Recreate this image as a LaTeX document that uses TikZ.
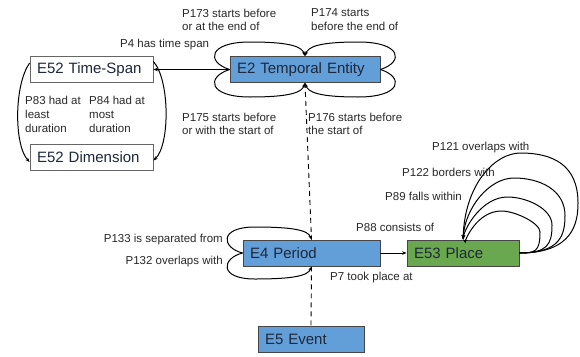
\documentclass[tikz,border=0pt]{standalone}
\usepackage{fontspec}
\setmainfont{Liberation Sans}
\usetikzlibrary{arrows.meta,backgrounds}
\definecolor{eblue}{RGB}{98,158,216}
\definecolor{egreen}{RGB}{106,168,79}
\definecolor{etext}{RGB}{30,40,58}
\definecolor{lbltext}{RGB}{40,40,40}
\definecolor{eborder}{RGB}{70,70,70}
\tikzset{
  ebox/.style={draw=eborder, line width=0.8pt, minimum height=26pt, inner xsep=7pt, inner ysep=0pt, align=left,
    font=\fontsize{15}{17}\selectfont, text=etext},
  bluebox/.style={ebox, fill=eblue},
  greenbox/.style={ebox, fill=egreen},
  whitebox/.style={ebox, fill=white, draw=gray!80!black},
  lbl/.style={inner sep=0pt, align=left, font=\fontsize{11.5}{13.5}\selectfont, text=lbltext},
  lblr/.style={inner sep=0pt, align=right, font=\fontsize{11.5}{13.5}\selectfont, text=lbltext},
  rel/.style={line width=1pt, black},
  tip/.style={-{Stealth[length=4.5pt,width=3.5pt]}},
  sub/.style={line width=0.9pt, dash pattern=on 5pt off 4pt}
}
\begin{document}
\begin{tikzpicture}[x=1pt,y=-1pt]
\useasboundingbox (0,0) rectangle (580,356);
% boxes
\node[whitebox, text width=109pt] (ts) at (91.5,69.5) {E52 Time-Span};
\node[whitebox, text width=109pt] (dim) at (91.5,157.5) {E52 Dimension};
\node[bluebox, text width=136pt] (e2) at (305,69.5) {E2 Temporal Entity};
\node[bluebox, text width=123pt] (e4) at (311.5,253) {E4 Period};
\node[greenbox, text width=98pt] (e53) at (463,253) {E53 Place};
\node[bluebox, text width=92pt] (e5) at (311,339) {E5 Event};
% subclass dashed line behind boxes
\begin{scope}[on background layer]
\draw[sub] (e2.south) -- (e4.north);
\draw[sub] (e4.south) -- (e5.north);
\end{scope}
% P4
\draw[rel,tip] (e2.west) -- (ts.east);
% E52 arcs
\draw[rel,tip] ([yshift=6.5pt]ts.west) .. controls (14,85) and (14,145) .. ([yshift=-4.5pt]dim.west);
\draw[rel,tip] ([yshift=8pt]ts.east) .. controls (170,80) and (170,145) .. ([yshift=-3pt]dim.east);
% E2 lobes
\draw[rel,tip] (e2.west) .. controls (206,62) and (208,42) .. (250,42) .. controls (292,42) and (302,47) .. (e2.north);
\draw[rel,tip] (e2.east) .. controls (404,62) and (402,42) .. (358,42) .. controls (318,42) and (308,47) .. (e2.north);
\draw[rel,tip] (e2.west) .. controls (206,77) and (208,97) .. (250,97) .. controls (292,97) and (302,92) .. (e2.south);
\draw[rel,tip] (e2.east) .. controls (404,77) and (402,97) .. (358,97) .. controls (318,97) and (308,92) .. (e2.south);
% E4 lobes
\draw[rel,tip] (e4.west) .. controls (222,248) and (218,227) .. (255,227) .. controls (292,227) and (308,230) .. (e4.north);
\draw[rel,tip] (e4.west) .. controls (222,258) and (218,279) .. (255,279) .. controls (292,279) and (308,276) .. (e4.south);
% E4 -> E53
\draw[rel,tip] (e4.east) -- (e53.west);
% E53 arcs
\foreach \T/\R in {153/578, 178/565, 197/552, 211/540}{
  \draw[rel,tip] (e53.east) .. controls (\R-5,253) and (\R,{(\T+253)/2+20}) .. (\R,{(\T+253)/2})
     .. controls (\R,{\T+12}) and ({\R-25},\T) .. ({(463+\R)/2},\T)
     .. controls ({(463+\R)/2-25},\T) and (465,{\T+30}) .. (e53.north);
}
% labels
\node[lbl, anchor=north west] at (182,8.5) {P173 starts before\\or at the end of};
\node[lbl, anchor=north west] at (311,8.5) {P174 starts\\before the end of};
\node[lbl, anchor=west] at (120,45) {P4 has time span};
\node[lbl, anchor=north west] at (182,112.5) {P175 starts before\\or with the start of};
\node[lbl, anchor=north west] at (308,112.5) {P176 starts before\\the start of};
\node[lbl, anchor=north west, font=\fontsize{11.5}{14}\selectfont] at (25,95.5) {P83 had at\\least\\duration};
\node[lbl, anchor=north west, font=\fontsize{11.5}{14}\selectfont] at (89,95.5) {P84 had at\\most\\duration};
\node[lbl, anchor=west] at (432,148) {P121 overlaps with};
\node[lbl, anchor=west] at (402,172) {P122 borders with};
\node[lbl, anchor=west] at (385,196) {P89 falls within};
\node[lbl, anchor=west] at (356,227) {P88 consists of};
\node[lbl, anchor=west] at (330,278) {P7 took place at};
\node[lblr, anchor=east] at (223,240) {P133 is separated from};
\node[lblr, anchor=east] at (223,262) {P132 overlaps with};
\end{tikzpicture}
\end{document}
